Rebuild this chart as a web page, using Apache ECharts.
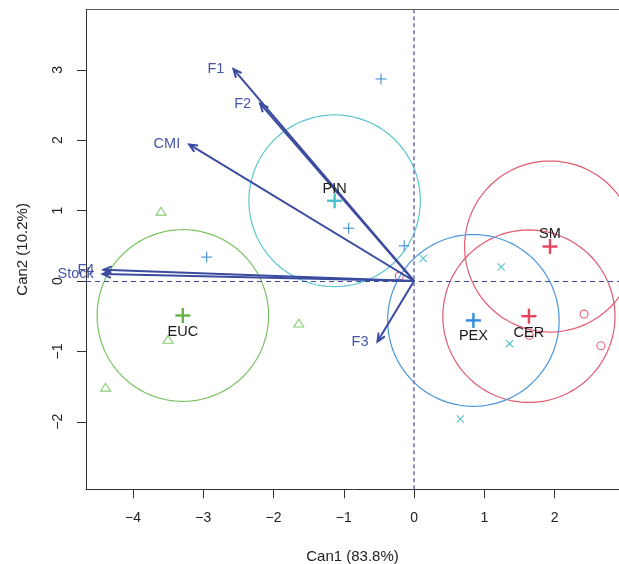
<!DOCTYPE html>
<html><head><meta charset="utf-8">
<script src="https://cdn.jsdelivr.net/npm/echarts@6/dist/echarts.min.js"></script>
<style>html,body{margin:0;padding:0;background:#fff}#c{width:619px;height:564px}</style>
</head><body><div id="c"></div>
<script>
// ---- data ----
const xTicks = [-4, -3, -2, -1, 0, 1, 2];
const yTicks = [-2, -1, 0, 1, 2, 3];
const groupNames = ['CER', 'EUC', 'PEX', 'PIN', 'SM'];
const centroidX = [1.635, -3.29, 0.845, -1.13, 1.935];
const centroidY = [-0.50, -0.49, -0.56, 1.14, 0.49];
const circleR = [1.225, 1.22, 1.22, 1.22, 1.215];
const eucX = [-3.60, -3.50, -4.39, -1.64];
const eucY = [0.98, -0.84, -1.52, -0.61];
const pinX = [-0.47, -0.93, -0.14, -2.95];
const pinY = [2.87, 0.75, 0.50, 0.34];
const pexX = [0.13, 1.24, 1.36, 0.66];
const pexY = [0.32, 0.20, -0.89, -1.96];
const cerX = [2.42, 2.66, -0.21, 1.64];
const cerY = [-0.47, -0.92, 0.07, -0.77];
const vecNames = ['F1', 'F2', 'CMI', 'F4', 'Stock', 'F3'];
const vecX = [-2.57, -2.19, -3.20, -4.42, -4.43, -0.52];
const vecY = [3.01, 2.52, 1.94, 0.16, 0.10, -0.86];

// ---- styles ----
const FONT = '"Liberation Sans", Arial, sans-serif';
const circleColor = {CER: '#e25a72', EUC: '#7cc264', PEX: '#4a95dc', PIN: '#5cc6cf', SM: '#e25a72'};
const centroidColor = {CER: '#e8445f', EUC: '#62b544', PEX: '#2f8be0', PIN: '#45c1cb', SM: '#e8445f'};
const labelPos = {CER: 17, EUC: 17, PEX: 16, PIN: -12, SM: -13};
const ARROW = '#3a4a9e';
const minus = v => String(v).replace('-', '\u2212');

function marker(kind, p, size, color, lw) {
  const h = size / 2;
  const st = {stroke: color, lineWidth: lw, fill: null};
  if (kind === 'plus') {
    return {type: 'group', children: [
      {type: 'line', shape: {x1: p[0] - h, y1: p[1], x2: p[0] + h, y2: p[1]}, style: st},
      {type: 'line', shape: {x1: p[0], y1: p[1] - h, x2: p[0], y2: p[1] + h}, style: st}
    ]};
  }
  if (kind === 'cross') {
    const d = h * 0.72;
    return {type: 'group', children: [
      {type: 'line', shape: {x1: p[0] - d, y1: p[1] - d, x2: p[0] + d, y2: p[1] + d}, style: st},
      {type: 'line', shape: {x1: p[0] - d, y1: p[1] + d, x2: p[0] + d, y2: p[1] - d}, style: st}
    ]};
  }
  if (kind === 'tri') {
    return {type: 'polygon', shape: {points: [[p[0], p[1] - h * 0.95], [p[0] - h, p[1] + h * 0.62], [p[0] + h, p[1] + h * 0.62]]}, style: st};
  }
  return {type: 'circle', shape: {cx: p[0], cy: p[1], r: h * 0.8}, style: st};
}

function pointSeries(xs, ys, kind, color, size) {
  return {
    type: 'custom', coordinateSystem: 'cartesian2d', z: 3,
    data: xs.map((x, i) => [x, ys[i]]),
    renderItem: (params, api) => marker(kind, api.coord([api.value(0), api.value(1)]), size, color, 1.1)
  };
}

const option = {
  animation: false,
  grid: {left: 86, top: 9.5, right: 0, bottom: 74.7, show: false, outerBoundsMode: 'none', containLabel: false},
  xAxis: [{
    type: 'value', min: -4.668, max: 2.917,
    name: 'Can1 (83.8%)', nameLocation: 'middle', nameGap: 60,
    nameTextStyle: {fontFamily: FONT, fontSize: 15, color: '#222'},
    axisLine: {show: true, onZero: false, lineStyle: {color: '#333', width: 1}},
    axisTick: {show: true, length: 9, customValues: xTicks, lineStyle: {color: '#333'}},
    axisLabel: {customValues: xTicks, formatter: minus, margin: 22, fontFamily: FONT, fontSize: 14, color: '#222'},
    splitLine: {show: false}
  }, {
    type: 'value', min: -4.668, max: 2.917, position: 'top',
    axisLine: {show: true, onZero: false, lineStyle: {color: '#555', width: 1}},
    axisTick: {show: false}, axisLabel: {show: false}, splitLine: {show: false}
  }],
  yAxis: {
    type: 'value', min: -2.959, max: 3.857,
    name: 'Can2 (10.2%)', nameLocation: 'middle', nameGap: 56, nameRotate: 90,
    nameTextStyle: {fontFamily: FONT, fontSize: 15, color: '#222'},
    axisLine: {show: true, onZero: false, lineStyle: {color: '#333', width: 1}},
    axisTick: {show: true, length: 9, customValues: yTicks, lineStyle: {color: '#333'}},
    axisLabel: {customValues: yTicks, formatter: minus, rotate: 90, margin: 21, fontFamily: FONT, fontSize: 14, color: '#222'},
    splitLine: {show: false}
  },
  series: [
    {
      type: 'line', data: [], silent: true,
      markLine: {
        symbol: 'none', silent: true, label: {show: false},
        data: [
          {yAxis: 0, lineStyle: {color: '#3c4a9a', type: [5, 4], width: 1.2}},
          {xAxis: 0, lineStyle: {color: '#7b77b3', type: [4, 3], width: 1.6}}
        ]
      }
    },
    {
      type: 'custom', coordinateSystem: 'cartesian2d', z: 2,
      data: groupNames.map((g, i) => [centroidX[i], centroidY[i], circleR[i]]),
      renderItem: (params, api) => {
        const cx = api.value(0), cy = api.value(1), r = api.value(2);
        const pts = [];
        for (let k = 0; k <= 120; k++) {
          const a = 2 * Math.PI * k / 120;
          pts.push(api.coord([cx + r * Math.cos(a), cy + r * Math.sin(a)]));
        }
        return {type: 'polyline', shape: {points: pts}, style: {stroke: circleColor[groupNames[params.dataIndex]], lineWidth: 1.2, fill: null}};
      }
    },
    pointSeries(eucX, eucY, 'tri', '#86cc72', 10),
    pointSeries(pinX, pinY, 'plus', '#3f8fd8', 11),
    pointSeries(pexX, pexY, 'cross', '#56c4cc', 10),
    pointSeries(cerX, cerY, 'circle', '#e2647a', 10),
    {
      type: 'custom', coordinateSystem: 'cartesian2d', z: 4,
      data: vecNames.map((n, i) => [vecX[i], vecY[i]]),
      renderItem: (params, api) => {
        const o = api.coord([0, 0]);
        const t = api.coord([api.value(0), api.value(1)]);
        const ang = Math.atan2(t[1] - o[1], t[0] - o[0]);
        const L = 9, A = 0.42;
        const p1 = [t[0] - L * Math.cos(ang - A), t[1] - L * Math.sin(ang - A)];
        const p2 = [t[0] - L * Math.cos(ang + A), t[1] - L * Math.sin(ang + A)];
        return {type: 'group', children: [
          {type: 'line', shape: {x1: o[0], y1: o[1], x2: t[0], y2: t[1]}, style: {stroke: ARROW, lineWidth: 2}},
          {type: 'polyline', shape: {points: [p1, t, p2]}, style: {stroke: ARROW, lineWidth: 2, fill: null}},
          {type: 'text', z2: 10, style: {text: vecNames[params.dataIndex], x: t[0] - 9, y: t[1], align: 'right', verticalAlign: 'middle', fill: '#4655a8', font: '14.5px ' + FONT}}
        ]};
      }
    },
    {
      type: 'custom', coordinateSystem: 'cartesian2d', z: 5,
      data: groupNames.map((g, i) => [centroidX[i], centroidY[i]]),
      renderItem: (params, api) => {
        const g = groupNames[params.dataIndex];
        const p = api.coord([api.value(0), api.value(1)]);
        return {type: 'group', children: [
          marker('plus', p, 15, centroidColor[g], 2.4),
          {type: 'text', style: {text: g, x: p[0], y: p[1] + labelPos[g], align: 'center', verticalAlign: 'middle', fill: '#1a1a1a', font: '14.5px ' + FONT}}
        ]};
      }
    }
  ]
};
const chart = echarts.init(document.getElementById('c'));
chart.setOption(option);
</script>
</body></html>
